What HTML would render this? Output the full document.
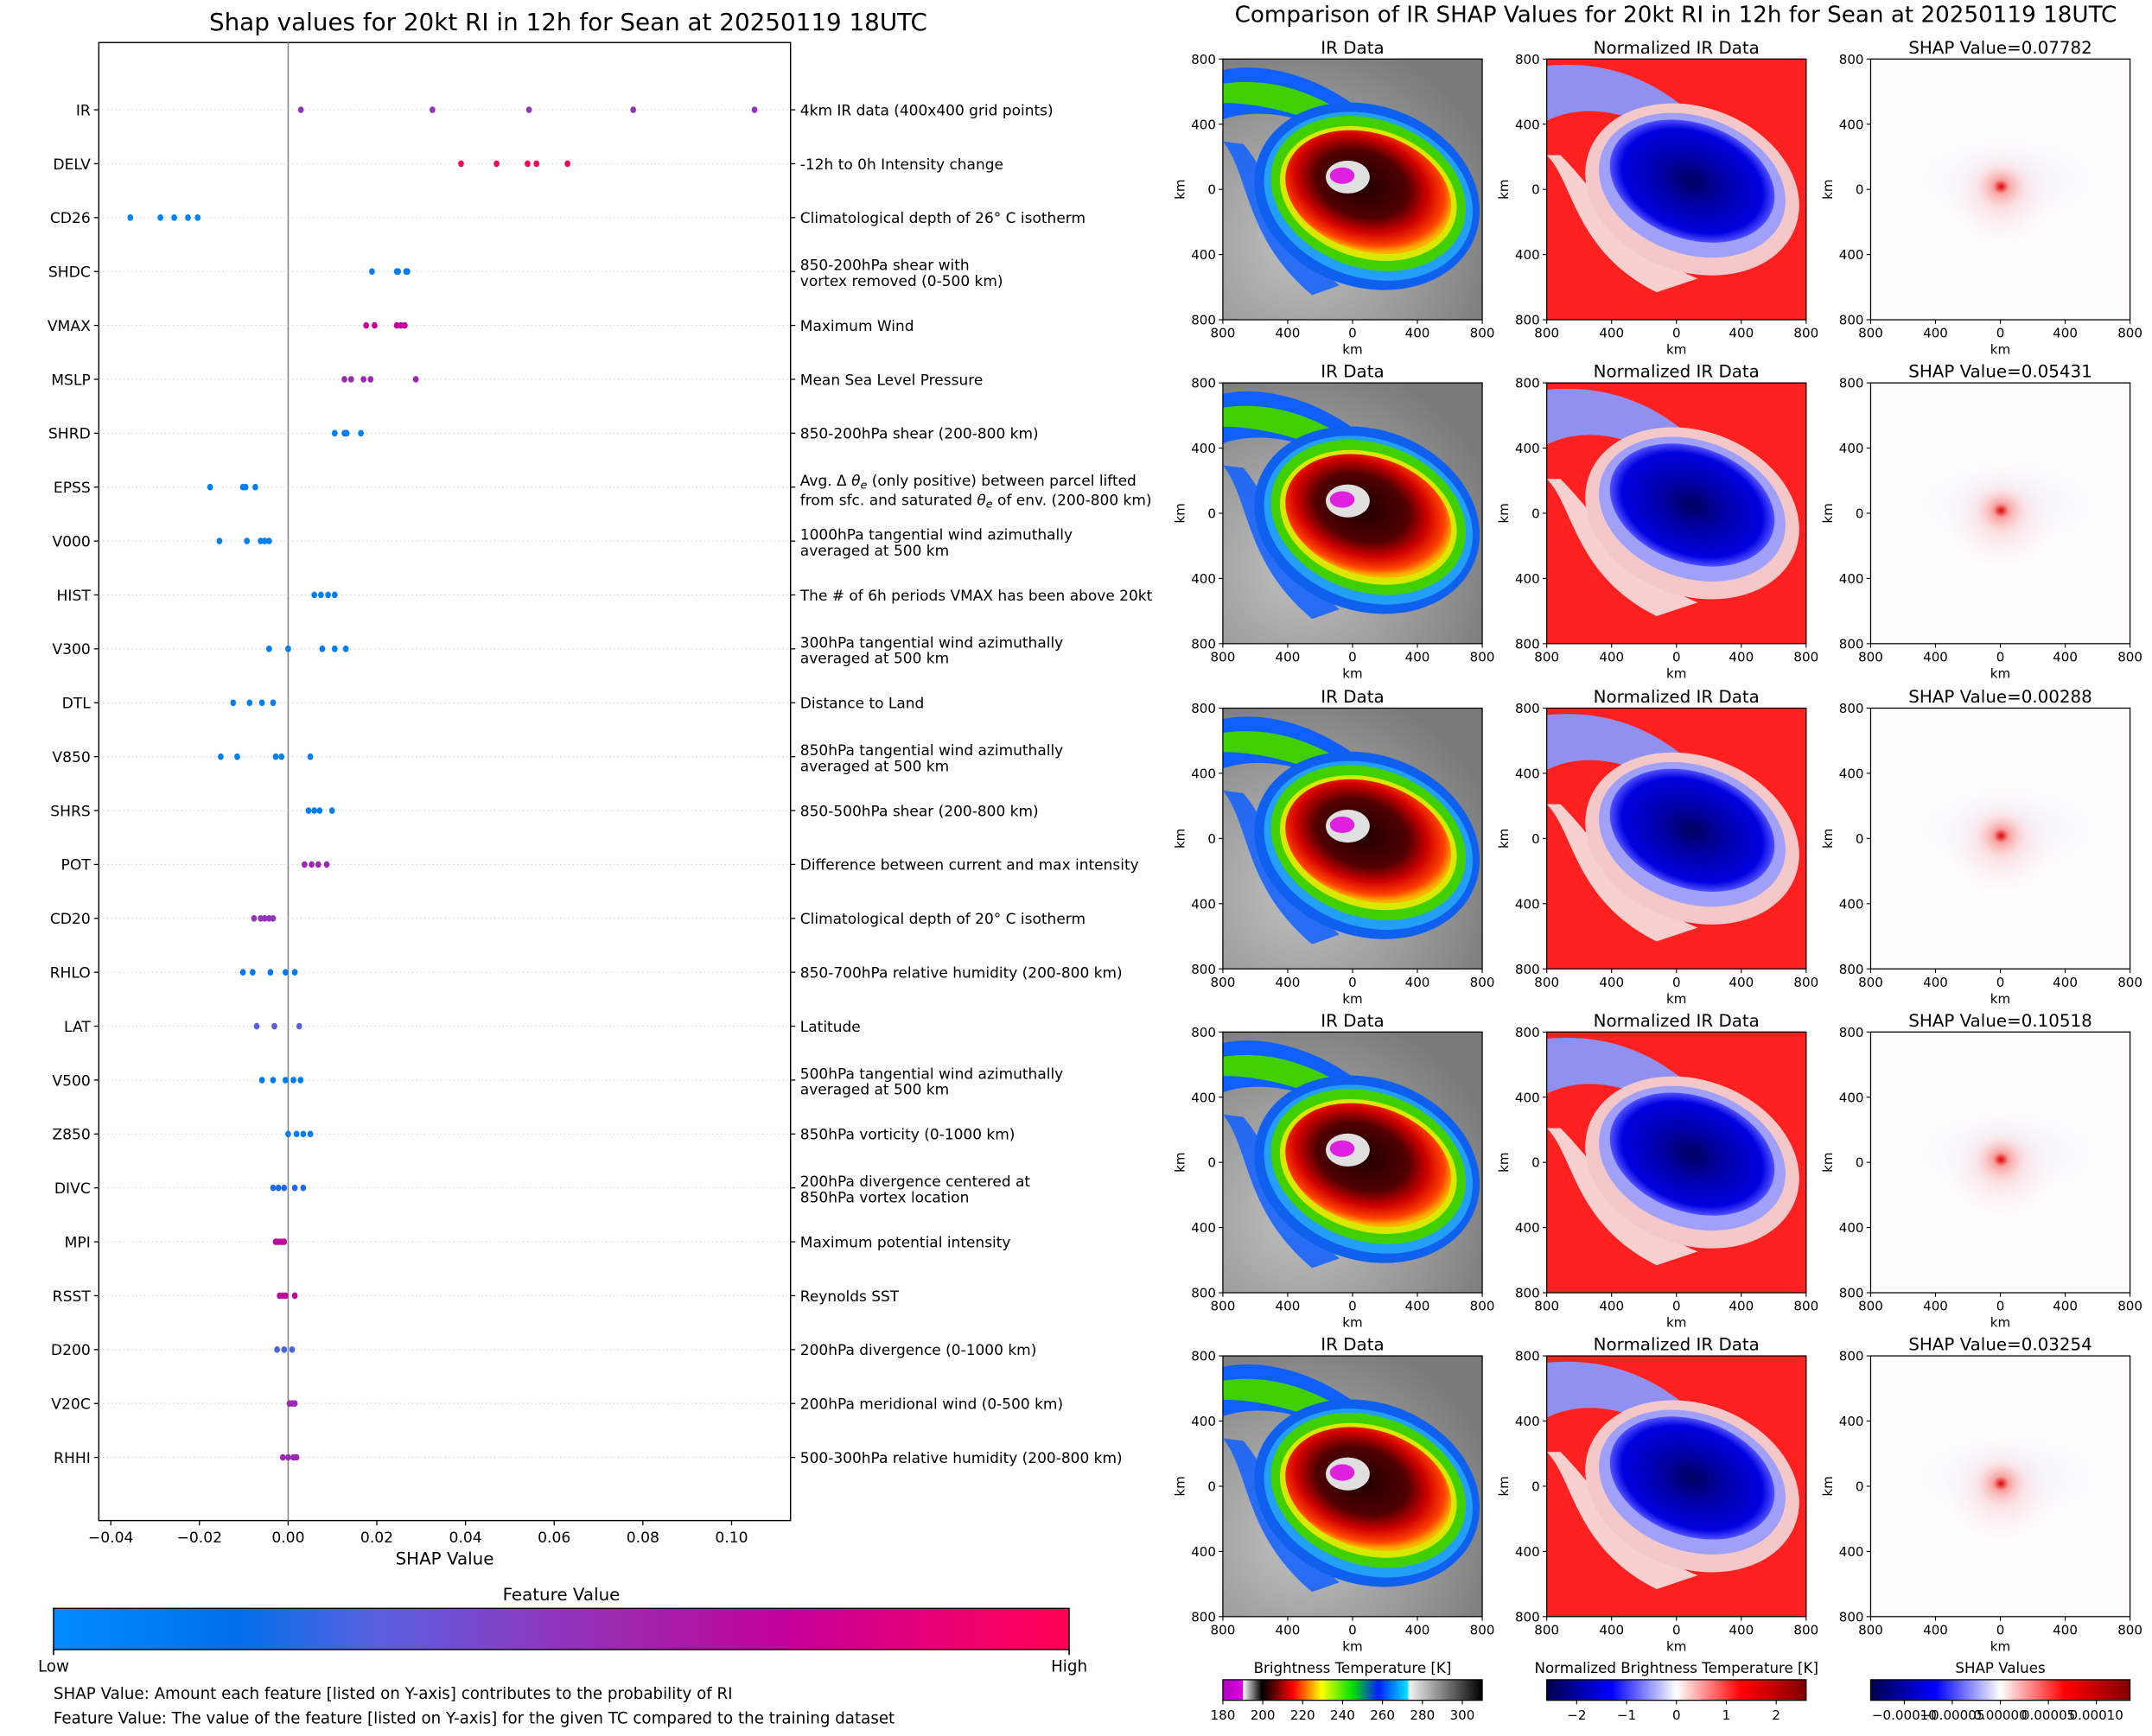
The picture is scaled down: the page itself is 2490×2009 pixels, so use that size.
<!DOCTYPE html>
<html><head><meta charset="utf-8">
<style>
html,body{margin:0;padding:0;background:#fff;}
svg{display:block;font-family:"DejaVu Sans","Liberation Sans",sans-serif;}
</style></head>
<body>
<svg id="fig" xmlns="http://www.w3.org/2000/svg" width="2490" height="2009" viewBox="0 0 1568 1265" preserveAspectRatio="none">
<defs>
  <linearGradient id="fvGrad" x1="0" x2="1" y1="0" y2="0">
    <stop offset="0" stop-color="#008bfb"/><stop offset="0.18" stop-color="#0070ea"/>
    <stop offset="0.32" stop-color="#5a5fe0"/><stop offset="0.48" stop-color="#8b3ac0"/>
    <stop offset="0.6" stop-color="#a61ea8"/><stop offset="0.72" stop-color="#c4009a"/>
    <stop offset="0.85" stop-color="#e5007a"/><stop offset="1" stop-color="#ff0051"/>
  </linearGradient>
  <linearGradient id="irGrad" x1="0" x2="1">
    <stop offset="0" stop-color="#b000c0"/><stop offset="0.077" stop-color="#e000e0"/>
    <stop offset="0.078" stop-color="#ffffff"/><stop offset="0.15" stop-color="#000000"/>
    <stop offset="0.2" stop-color="#600000"/><stop offset="0.27" stop-color="#ff0000"/>
    <stop offset="0.34" stop-color="#ffa000"/><stop offset="0.38" stop-color="#ffff00"/>
    <stop offset="0.5" stop-color="#00e000"/><stop offset="0.6" stop-color="#0020ff"/>
    <stop offset="0.71" stop-color="#00e0ff"/><stop offset="0.72" stop-color="#f0f0f0"/>
    <stop offset="1" stop-color="#000000"/>
  </linearGradient>
  <linearGradient id="seis" x1="0" x2="1">
    <stop offset="0" stop-color="#00004c"/><stop offset="0.25" stop-color="#0000ff"/>
    <stop offset="0.5" stop-color="#ffffff"/><stop offset="0.75" stop-color="#ff0000"/>
    <stop offset="1" stop-color="#800000"/>
  </linearGradient>
  <radialGradient id="grayBg" cx="0.3" cy="0.7" r="0.8">
    <stop offset="0" stop-color="#c0c0c0"/><stop offset="0.6" stop-color="#989898"/><stop offset="1" stop-color="#7a7a7a"/>
  </radialGradient>
  <radialGradient id="coreGrad" cx="0.45" cy="0.45" r="0.55">
    <stop offset="0" stop-color="#200000"/><stop offset="0.5" stop-color="#500000"/>
    <stop offset="0.72" stop-color="#d00000"/><stop offset="0.9" stop-color="#ff4000"/><stop offset="1" stop-color="#ffb000"/>
  </radialGradient>
  <radialGradient id="normCore" cx="0.5" cy="0.5" r="0.5">
    <stop offset="0" stop-color="#000060"/><stop offset="0.4" stop-color="#0000a8"/>
    <stop offset="0.85" stop-color="#0000e0"/><stop offset="1" stop-color="#5050ff"/>
  </radialGradient>
  <radialGradient id="shapCore" cx="0.5" cy="0.5" r="0.5">
    <stop offset="0" stop-color="#e00000"/><stop offset="0.25" stop-color="#f8a0a0"/>
    <stop offset="1" stop-color="#fff5f5" stop-opacity="0"/>
  </radialGradient>
  <radialGradient id="shapSoft" cx="0.5" cy="0.5" r="0.5">
    <stop offset="0" stop-color="#f8c8c8"/><stop offset="1" stop-color="#fff8f8" stop-opacity="0"/>
  </radialGradient>
  <radialGradient id="shapBlue" cx="0.5" cy="0.5" r="0.5">
    <stop offset="0" stop-color="#ececff"/><stop offset="1" stop-color="#fafaff" stop-opacity="0"/>
  </radialGradient>
  <symbol id="irImg" viewBox="0 0 189 190">
    <rect width="189" height="190" fill="url(#grayBg)"/>
    <path d="M0,8 C40,0 90,20 125,60 L108,72 C70,42 30,34 0,44Z" fill="#1060ff"/>
    <path d="M0,18 C40,12 80,28 112,58 L102,64 C70,42 30,32 0,32Z" fill="#40d000"/>
    <path d="M0,60 C20,85 15,130 65,172 L85,165 C45,132 40,92 15,62Z" fill="#1060ff" opacity="0.85"/>
    <ellipse cx="105" cy="100" rx="84" ry="66" transform="rotate(20 105 100)" fill="#1060f0"/>
    <ellipse cx="106" cy="100" rx="78" ry="59" transform="rotate(20 106 100)" fill="#30c8ff" opacity="0.6"/>
    <ellipse cx="106" cy="98" rx="73" ry="54" transform="rotate(20 106 98)" fill="#40d000"/>
    <ellipse cx="106" cy="98" rx="66" ry="47" transform="rotate(18 106 98)" fill="#d8e800"/>
    <ellipse cx="106" cy="97" rx="62" ry="43" transform="rotate(18 106 97)" fill="url(#coreGrad)"/>
    <ellipse cx="91" cy="86" rx="16" ry="12" fill="#e0e0e0"/>
    <ellipse cx="87" cy="85" rx="9" ry="6" fill="#e020e0"/>
  </symbol>
  <symbol id="normImg" viewBox="0 0 189 190">
    <rect width="189" height="190" fill="#ff2020"/>
    <path d="M0,5 C50,0 90,20 120,55 L100,65 C70,40 30,30 0,45Z" fill="#9090f0"/>
    <path d="M0,70 C20,90 20,140 80,170 L110,160 C60,140 40,100 10,70Z" fill="#f8d0d0"/>
    <ellipse cx="106" cy="95" rx="80" ry="60" transform="rotate(20 106 95)" fill="#f4c8c8"/>
    <ellipse cx="106" cy="92" rx="70" ry="50" transform="rotate(20 106 92)" fill="#a0a0f8"/>
    <ellipse cx="106" cy="89" rx="62" ry="42" transform="rotate(20 106 89)" fill="url(#normCore)"/>
  </symbol>
  <symbol id="shapImg" viewBox="0 0 189 190">
    <rect width="189" height="190" fill="#fefcfc"/>
    <ellipse cx="100" cy="88" rx="75" ry="35" fill="url(#shapBlue)"/>
    <ellipse cx="95" cy="98" rx="42" ry="40" fill="url(#shapSoft)"/>
    <ellipse cx="95" cy="93" rx="22" ry="20" fill="url(#shapCore)"/>
  </symbol>
</defs>
<g id="left"></g>
<g id="right"></g>
</svg>
<script>
const features = ["IR","DELV","CD26","SHDC","VMAX","MSLP","SHRD","EPSS","V000","HIST","V300","DTL","V850","SHRS","POT","CD20","RHLO","LAT","V500","Z850","DIVC","MPI","RSST","D200","V20C","RHHI"];
const shapValues = [
 [0.00288,0.03254,0.05431,0.07782,0.10518],
 [0.039,0.047,0.054,0.056,0.063],
 [-0.0356,-0.0288,-0.0257,-0.0226,-0.0204],
 [0.0189,0.0245,0.0248,0.0266,0.0269],
 [0.0176,0.0195,0.0245,0.0254,0.0263],
 [0.0127,0.0142,0.017,0.0186,0.0288],
 [0.0105,0.0127,0.013,0.0132,0.0164],
 [-0.0176,-0.0102,-0.0096,-0.0074],
 [-0.0155,-0.0093,-0.0062,-0.0053,-0.0043],
 [0.0059,0.0074,0.009,0.0105],
 [-0.0043,0.0,0.0077,0.0105,0.013],
 [-0.0124,-0.0087,-0.0059,-0.0034],
 [-0.0152,-0.0115,-0.0028,-0.0015,0.005],
 [0.0046,0.0059,0.0071,0.0099],
 [0.0037,0.0053,0.0068,0.0087],
 [-0.0077,-0.0062,-0.0053,-0.0043,-0.0034],
 [-0.0102,-0.008,-0.004,-0.0006,0.0015],
 [-0.0071,-0.0031,0.0025],
 [-0.0059,-0.0034,-0.0006,0.0012,0.0028],
 [0.0,0.0019,0.0034,0.005],
 [-0.0034,-0.0022,-0.0009,0.0015,0.0034],
 [-0.0028,-0.0022,-0.0015,-0.0009],
 [-0.0019,-0.0012,-0.0006,0.0015],
 [-0.0025,-0.0009,0.0009],
 [0.0003,0.0009,0.0015],
 [-0.0012,0.0,0.0012,0.0019]
];
const featureValues = [0.5,0.98,0.05,0.08,0.72,0.55,0.08,0.08,0.08,0.08,0.08,0.08,0.08,0.08,0.55,0.5,0.12,0.32,0.1,0.08,0.22,0.7,0.7,0.3,0.55,0.55];
const descriptions = [
 ["4km IR data (400x400 grid points)"],["-12h to 0h Intensity change"],["Climatological depth of 26° C isotherm"],
 ["850-200hPa shear with","vortex removed (0-500 km)"],["Maximum Wind"],["Mean Sea Level Pressure"],["850-200hPa shear (200-800 km)"],
 ["EPSS"],["1000hPa tangential wind azimuthally","averaged at 500 km"],["The # of 6h periods VMAX has been above 20kt"],
 ["300hPa tangential wind azimuthally","averaged at 500 km"],["Distance to Land"],["850hPa tangential wind azimuthally","averaged at 500 km"],
 ["850-500hPa shear (200-800 km)"],["Difference between current and max intensity"],["Climatological depth of 20° C isotherm"],
 ["850-700hPa relative humidity (200-800 km)"],["Latitude"],["500hPa tangential wind azimuthally","averaged at 500 km"],
 ["850hPa vorticity (0-1000 km)"],["200hPa divergence centered at","850hPa vortex location"],["Maximum potential intensity"],
 ["Reynolds SST"],["200hPa divergence (0-1000 km)"],["200hPa meridional wind (0-500 km)"],["500-300hPa relative humidity (200-800 km)"]
];
const xTicks = [-0.04,-0.02,0.00,0.02,0.04,0.06,0.08,0.10];
const xTickLabels = ["\u22120.04","\u22120.02","0.00","0.02","0.04","0.06","0.08","0.10"];
const panelShap = ["0.07782","0.05431","0.00288","0.10518","0.03254"];
const kmTicks = ["800","400","0","400","800"];
const irCbTicks = [180,200,220,240,260,280,300];
const normCbTicks = [-2,-1,0,1,2];
const shapCbTicks = [-0.0001,-0.00005,0,0.00005,0.0001];
const shapCbLabels = ["\u22120.00010","\u22120.00005","0.00000","0.00005","0.00010"];

const NS="http://www.w3.org/2000/svg";
function mk(tag,attrs,parent,text){const e=document.createElementNS(NS,tag);for(const k in attrs)e.setAttribute(k,attrs[k]);if(text!==undefined)e.textContent=text;parent.appendChild(e);return e;}
const L=document.getElementById('left'), R=document.getElementById('right');
const AX={x0:72,x1:576,y0:31,y1:1108};
const xMin=-0.0427,xMax=0.1133;
const xs=v=>AX.x0+(v-xMin)/(xMax-xMin)*(AX.x1-AX.x0);
const rowY=i=>80+i*(1062-80)/(features.length-1);
const stops=[[0,[0,139,251]],[0.18,[0,112,234]],[0.32,[90,95,224]],[0.48,[139,58,192]],[0.6,[166,30,168]],[0.72,[196,0,154]],[0.85,[229,0,122]],[1,[255,0,81]]];
function cmap(t){for(let i=1;i<stops.length;i++){if(t<=stops[i][0]){const a=stops[i-1],b=stops[i];const f=(t-a[0])/(b[0]-a[0]);const c=a[1].map((v,j)=>Math.round(v+(b[1][j]-v)*f));return `rgb(${c})`;}}return 'rgb(255,0,81)';}
const DF=10.7;

let t=mk('text',{x:414,y:22,'font-size':17.5,'text-anchor':'middle'},L,"Shap values for 20kt RI in 12h for Sean at 20250119 18UTC");

let fr=mk('rect',{x:AX.x0,y:AX.y0,width:AX.x1-AX.x0,height:AX.y1-AX.y0,fill:'none',stroke:'#000','stroke-width':0.9},L);

let zl=mk('line',{x1:xs(0),x2:xs(0),y1:AX.y0,y2:AX.y1,stroke:'#888','stroke-width':1},L);

features.forEach((f,i)=>{
  const y=rowY(i);
  let g=mk('line',{x1:AX.x0,x2:AX.x1,y1:y,y2:y,stroke:'#ccc','stroke-width':0.6,'stroke-dasharray':'1,2'},L);
  
  mk('line',{x1:AX.x0-3.5,x2:AX.x0,y1:y,y2:y,stroke:'#000','stroke-width':0.8},L);
  mk('line',{x1:AX.x1,x2:AX.x1+3.5,y1:y,y2:y,stroke:'#000','stroke-width':0.8},L);
  let lb=mk('text',{x:AX.x0-6,y:y+4,'font-size':10.8,'text-anchor':'end'},L,f);
  
  const d=descriptions[i];
  let dg=mk('text',{x:583,'font-size':DF},L);
  
  if(f==="EPSS"){
    dg.setAttribute('y',y-1);
    dg.innerHTML='Avg. \u0394 <tspan font-style="italic">\u03b8</tspan><tspan font-style="italic" font-size="8" dy="2">e</tspan><tspan dy="-2"> (only positive) between parcel lifted</tspan>';
    let d2=mk('text',{x:583,y:y+13,'font-size':DF},L);
    
    d2.innerHTML='from sfc. and saturated <tspan font-style="italic">\u03b8</tspan><tspan font-style="italic" font-size="8" dy="2">e</tspan><tspan dy="-2"> of env. (200-800 km)</tspan>';
  } else if(d.length===1){dg.setAttribute('y',y+4);dg.textContent=d[0];}
  else {dg.setAttribute('y',y-1);dg.textContent=d[0];
    let d2=mk('text',{x:583,y:y+10.5,'font-size':DF},L,d[1]);
    }
  shapValues[i].forEach(v=>{
    const c=mk('ellipse',{cx:xs(v),cy:y,rx:2.1,ry:2.4,fill:cmap(featureValues[i])},L);
    
    
  });
});
xTicks.forEach((v,i)=>{
  mk('line',{x1:xs(v),x2:xs(v),y1:AX.y1,y2:AX.y1+3.5,stroke:'#000','stroke-width':0.8},L);
  let tl=mk('text',{x:xs(v),y:AX.y1+16,'font-size':10.8,'text-anchor':'middle'},L,xTickLabels[i]);
  
});
t=mk('text',{x:324,y:1140,'font-size':12.5,'text-anchor':'middle'},L,"SHAP Value");

t=mk('text',{x:409,y:1166,'font-size':12.5,'text-anchor':'middle'},L,"Feature Value");

let cb=mk('rect',{x:39,y:1172,width:740,height:30,fill:'url(#fvGrad)',stroke:'#000','stroke-width':0.9},L);

mk('line',{x1:39,x2:39,y1:1202,y2:1206,stroke:'#000'},L);mk('line',{x1:779,x2:779,y1:1202,y2:1206,stroke:'#000'},L);
t=mk('text',{x:39,y:1218,'font-size':11.5,'text-anchor':'middle'},L,"Low");
t=mk('text',{x:779,y:1218,'font-size':11.5,'text-anchor':'middle'},L,"High");
t=mk('text',{x:39,y:1238,'font-size':11.5},L,"SHAP Value: Amount each feature [listed on Y-axis] contributes to the probability of RI");

t=mk('text',{x:39,y:1256,'font-size':11.5},L,"Feature Value: The value of the feature [listed on Y-axis] for the given TC compared to the training dataset");


t=mk('text',{x:1221,y:16,'font-size':16.5,'text-anchor':'middle'},R,"Comparison of IR SHAP Values for 20kt RI in 12h for Sean at 20250119 18UTC");

const colX=[891,1127,1363], rowTop=[43,279,516,752,988], PW=189, PH=190;
const imgs=['#irImg','#normImg','#shapImg'];
rowTop.forEach((py,r)=>{
  colX.forEach((px,c)=>{
    let u=mk('use',{href:imgs[c],x:px,y:py,width:PW,height:PH},R);
    
    
    mk('rect',{x:px,y:py,width:PW,height:PH,fill:'none',stroke:'#000','stroke-width':0.8},R);
    const title=c===0?"IR Data":c===1?"Normalized IR Data":"SHAP Value="+panelShap[r];
    let pt=mk('text',{x:px+PW/2,y:py-4,'font-size':12.5,'text-anchor':'middle'},R,title);
    
    kmTicks.forEach((k,j)=>{
      const ty=py+j*PH/4, tx=px+j*PW/4;
      mk('line',{x1:px-3,x2:px,y1:ty,y2:ty,stroke:'#000','stroke-width':0.7},R);
      let a=mk('text',{x:px-5,y:ty+3.5,'font-size':9.5,'text-anchor':'end'},R,k);
      
      mk('line',{x1:tx,x2:tx,y1:py+PH,y2:py+PH+3,stroke:'#000','stroke-width':0.7},R);
      let b=mk('text',{x:tx,y:py+PH+13,'font-size':9.5,'text-anchor':'middle'},R,k);
      
    });
    let kx=mk('text',{x:px+PW/2,y:py+PH+25,'font-size':9.5,'text-anchor':'middle'},R,"km");
    
    let ky=mk('text',{x:0,y:0,'font-size':9.5,'text-anchor':'middle',transform:`translate(${px-28},${py+PH/2}) rotate(-90)`},R,"km");
    
  });
});
const cbY=1224,cbH=15;
function colorbar(x,grad,title,ticks,labels,vmin,vmax,name){
  let tt=mk('text',{x:x+PW/2,y:cbY-5,'font-size':10.5,'text-anchor':'middle'},R,title);
  
  let rc=mk('rect',{x:x,y:cbY,width:PW,height:cbH,fill:grad,stroke:'#000','stroke-width':0.8},R);
  
  ticks.forEach((v,i)=>{
    const tx=x+(v-vmin)/(vmax-vmin)*PW;
    mk('line',{x1:tx,x2:tx,y1:cbY+cbH,y2:cbY+cbH+3,stroke:'#000','stroke-width':0.7},R);
    let l=mk('text',{x:tx,y:cbY+cbH+14,'font-size':9.5,'text-anchor':'middle'},R,labels[i]);
    
  });
}
colorbar(891,'url(#irGrad)',"Brightness Temperature [K]",irCbTicks,irCbTicks.map(String),180,310,'ir-colorbar');
colorbar(1127,'url(#seis)',"Normalized Brightness Temperature [K]",normCbTicks,normCbTicks.map(v=>v<0?"\u2212"+(-v):String(v)),-2.6,2.6,'normalized-colorbar');
colorbar(1363,'url(#seis)',"SHAP Values",shapCbTicks,shapCbLabels,-0.000135,0.000135,'shap-colorbar');
</script>
</body></html>
